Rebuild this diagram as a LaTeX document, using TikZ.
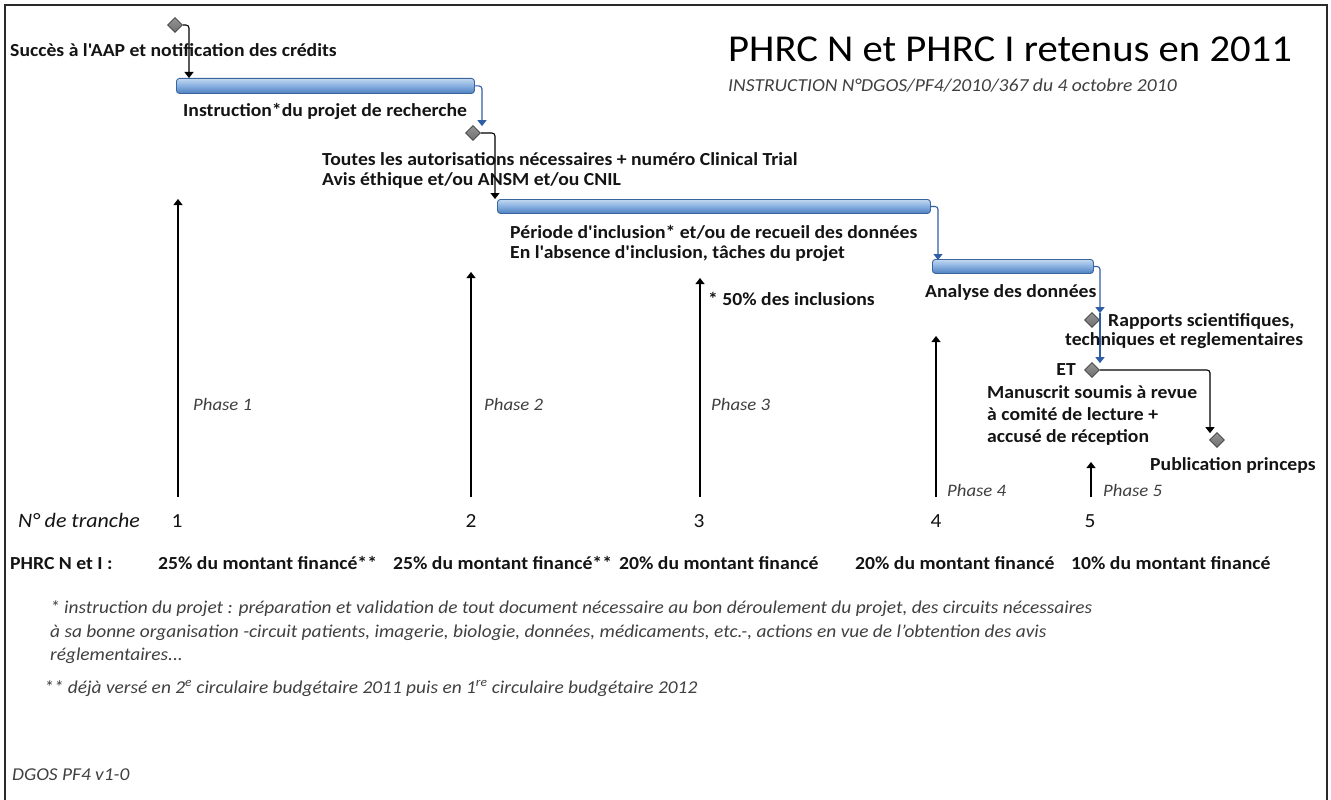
\documentclass[tikz,border=0pt]{standalone}
\usepackage{fontspec}
\newfontfamily\carl{Carlito}[FakeStretch=1.07]
\usetikzlibrary{shapes.geometric,arrows.meta}
\definecolor{txt}{HTML}{141414}
\definecolor{soft}{HTML}{404040}
\definecolor{barline}{HTML}{3A669E}
\definecolor{bartop}{HTML}{C3D8F0}
\definecolor{barmid}{HTML}{86AEE0}
\definecolor{barbot}{HTML}{4D7FBE}
\definecolor{bluecon}{HTML}{2E5FA6}
\definecolor{dia}{HTML}{707070}
\definecolor{diaedge}{HTML}{3C3C3C}
\definecolor{frame}{HTML}{2A2A2A}
\tikzset{
  x=1pt, y=-1pt,
  lbl/.style={anchor=base west, inner sep=0pt, text=txt, font=\carl\fontsize{18.4}{22}\selectfont\bfseries},
  num/.style={anchor=base, inner sep=0pt, text=txt, font=\carl\fontsize{20}{24}\selectfont},
  phase/.style={anchor=base west, inner sep=0pt, text=soft, font=\carl\fontsize{17.5}{21}\selectfont\itshape},
  note/.style={anchor=base west, inner sep=0pt, text=soft, font=\carl\fontsize{18.1}{21}\selectfont\itshape},
  ganttbar/.style={rectangle, rounded corners=3pt, draw=barline, line width=0.9pt,
    top color=bartop, bottom color=barbot, middle color=barmid,
    minimum height=15, inner sep=0pt, anchor=north west},
  ms/.style={diamond, draw=diaedge, line width=0.7pt, top color=dia!75, bottom color=dia!100!black,
    minimum width=15, minimum height=15, inner sep=0pt},
  blk/.style={draw=black, line width=1.1pt, rounded corners=3pt, -{Triangle[width=9pt,length=6pt]}},
  blu/.style={draw=bluecon, line width=1.1pt, rounded corners=3pt, -{Triangle[width=9pt,length=6pt]}},
  up/.style={draw=black, line width=1.1pt, -{Triangle[width=9pt,length=6pt]}},
  framel/.style={draw=frame, line width=1.6pt}
}
\begin{document}
\begin{tikzpicture}
\useasboundingbox (0,0) rectangle (1331,800);
\fill[white] (0,0) rectangle (1331,800);
% frame
\coordinate (fbl) at (5,801);
\coordinate (ftl) at (5,5);
\coordinate (ftr) at (1327,5);
\coordinate (fbr) at (1327,801);
\draw[framel] (fbl) -- (ftl) -- (ftr) -- (fbr);

% title
\node[anchor=base west, inner sep=0pt, text=black, font=\carl\fontsize{38}{44}\selectfont] (title) at (728,62) {PHRC N et PHRC I retenus en 2011};
\node[anchor=base west, inner sep=0pt, text=soft, font=\carl\fontsize{18.3}{21}\selectfont\itshape] (subtitle) at (728,92) {INSTRUCTION N°DGOS/PF4/2010/367 du 4 octobre 2010};

% gantt bars and milestones
\node[ms] (m1) at (175,25) {};
\node[ganttbar, minimum width=298] (b1) at (176,78) {};
\node[ms] (m2) at (473,133) {};
\node[ganttbar, minimum width=433, minimum height=14] (b2) at (497,199) {};
\node[ganttbar, minimum width=161, minimum height=14] (b3) at (932,259) {};
\node[ms] (m3) at (1092,320) {};
\node[ms] (m4) at (1092,370) {};
\node[ms] (m5) at (1217,440) {};

% connectors
\draw[blk] (m1.east) -| ([xshift=13pt]b1.north west);
\draw[blu] (b1.east) -| ([xshift=9pt,yshift=-1pt]m2.north);
\draw[blk] (m2.east) -| ([xshift=-2pt]b2.north west);
\draw[blu] (b2.east) -| ([xshift=6pt,yshift=-1pt]b3.north west);
\draw[blu] (b3.east) -| ([xshift=8pt,yshift=-1pt]m3.north);
\draw[blu] ([xshift=8pt,yshift=-1pt]m3.north) -- ([xshift=8pt,yshift=-1pt]m4.north);
\draw[blk] (m4.east) -| ([xshift=-7pt,yshift=-1pt]m5.north);

% labels of tasks
\node[lbl] (t1) at (10,57) {Succès à l'AAP et notification des crédits};
\node[lbl] (t2) at (183,117) {Instruction*du projet de recherche};
\node[lbl] (t3a) at (322,165) {Toutes les autorisations nécessaires + numéro Clinical Trial};
\node[lbl] (t3b) at (322,185) {Avis éthique et/ou ANSM et/ou CNIL};
\node[lbl] (t4a) at (510,238) {Période d'inclusion* et/ou de recueil des données};
\node[lbl] (t4b) at (510,258) {En l'absence d'inclusion, tâches du projet};
\node[lbl] (t5) at (925,297) {Analyse des données};
\node[lbl] (t50) at (708,305) {* 50\% des inclusions};
\node[lbl] (t6a) at (1108,326) {Rapports scientifiques,};
\node[lbl] (t6b) at (1065,345) {techniques et reglementaires};
\node[lbl, anchor=base east] (tet) at (1076,375) {ET};
\node[lbl] (t7a) at (987,398) {Manuscrit soumis à revue};
\node[lbl] (t7b) at (987,420) {à comité de lecture +};
\node[lbl] (t7c) at (987,442) {accusé de réception};
\node[lbl] (t8) at (1150,470) {Publication princeps};

% phase arrows
\coordinate (p1b) at (178,497); \coordinate (p1t) at (178,199);
\coordinate (p2b) at (471,497); \coordinate (p2t) at (471,272);
\coordinate (p3b) at (700,497); \coordinate (p3t) at (700,278);
\coordinate (p4b) at (936,497); \coordinate (p4t) at (936,336);
\coordinate (p5b) at (1091,497); \coordinate (p5t) at (1091,462);
\draw[up] (p1b) -- (p1t);
\draw[up] (p2b) -- (p2t);
\draw[up] (p3b) -- (p3t);
\draw[up] (p4b) -- (p4t);
\draw[up] (p5b) -- (p5t);
\node[phase] (ph1) at (193,410) {Phase 1};
\node[phase] (ph2) at (484,410) {Phase 2};
\node[phase] (ph3) at (711,410) {Phase 3};
\node[phase] (ph4) at (947,496) {Phase 4};
\node[phase] (ph5) at (1103,496) {Phase 5};

% tranche row
\node[anchor=base west, inner sep=0pt, text=txt, font=\carl\fontsize{20.5}{24}\selectfont\itshape] (tr) at (18,527) {N° de tranche};
\node[num] (n1) at (177,527) {1};
\node[num] (n2) at (471,527) {2};
\node[num] (n3) at (699,527) {3};
\node[num] (n4) at (936,527) {4};
\node[num] (n5) at (1090,527) {5};

% amounts row
\node[lbl] (a0) at (10,569) {PHRC N et I :};
\node[lbl] (a1) at (158,569) {25\% du montant financé**};
\node[lbl] (a2) at (393,569) {25\% du montant financé**};
\node[lbl] (a3) at (619,569) {20\% du montant financé};
\node[lbl] (a4) at (855,569) {20\% du montant financé};
\node[lbl] (a5) at (1071,569) {10\% du montant financé};

% notes
\node[note] (f1) at (50,613) {* instruction du projet : préparation et validation de tout document nécessaire au bon déroulement du projet, des circuits nécessaires};
\node[note] (f2) at (50,637) {à sa bonne organisation -circuit patients, imagerie, biologie, données, médicaments, etc.-, actions en vue de l’obtention des avis};
\node[note] (f3) at (50,660) {réglementaires...};
\node[note] (f4) at (44,693) {** déjà versé en 2\textsuperscript{e} circulaire budgétaire 2011 puis en 1\textsuperscript{re} circulaire budgétaire 2012};
\node[note] (ver) at (12,780) {DGOS PF4 v1-0};
\end{tikzpicture}
\end{document}
